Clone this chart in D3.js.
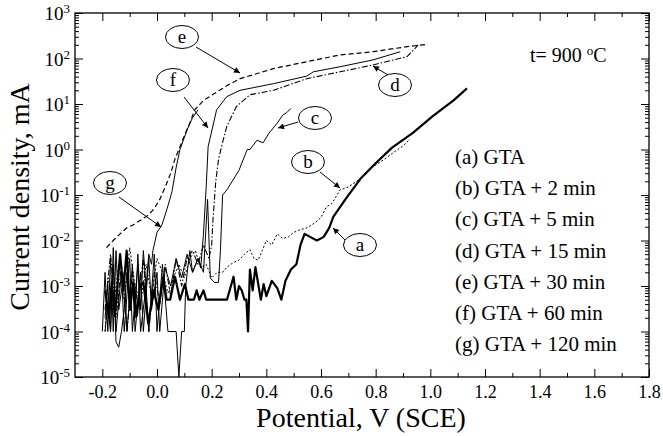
<!DOCTYPE html>
<html><head><meta charset="utf-8">
<script src="https://cdn.jsdelivr.net/npm/d3@7"></script>
<style>body{margin:0;background:#fff}</style>
</head><body><svg id="c" width="663" height="436"></svg>
<script>
// ---- data: [potential V (SCE), current density mA] ----
const seriesA = [[-0.19,8e-4],[-0.175,2e-4],[-0.166,1.2e-3],[-0.154,2.2e-4],[-0.135,5e-3],[-0.123,8e-4],[-0.111,6e-3],[-0.099,3e-4],[-0.087,1.2e-3],[-0.074,2.2e-4],[-0.062,1e-3],[-0.05,1.2e-3],[-0.032,1.5e-4],[-0.013,8e-4],[0.005,3e-4],[0.023,1.6e-3],[0.035,5e-4],[0.048,5e-4],[0.066,1.6e-3],[0.084,5e-4],[0.102,1.1e-3],[0.115,5e-4],[0.135,5e-4],[0.145,8e-4],[0.155,5e-4],[0.17,8e-4],[0.18,5e-4],[0.256,5e-4],[0.28,1.6e-3],[0.29,5e-4],[0.30,1e-3],[0.31,8e-4],[0.32,5e-4],[0.327,5e-4],[0.333,1e-4],[0.34,2.3e-3],[0.35,8e-4],[0.36,2.6e-3],[0.38,5e-4],[0.39,1.1e-3],[0.40,6e-4],[0.42,1.3e-3],[0.44,9e-4],[0.455,5e-4],[0.47,1.3e-3],[0.49,2.3e-3],[0.51,3e-3],[0.525,8e-3],[0.54,1.4e-2],[0.56,1.2e-2],[0.585,1e-2],[0.61,1.2e-2],[0.63,1.9e-2],[0.645,3.3e-2],[0.66,4.5e-2],[0.695,9e-2],[0.745,0.23],[0.80,0.5],[0.86,1.1],[0.935,2.3],[1.01,5.5],[1.085,12],[1.134,22]];
const seriesB = [[-0.19,1e-4],[-0.18,1.5e-3],[-0.16,3e-4],[-0.14,3e-3],[-0.12,5e-4],[-0.10,7e-3],[-0.08,1e-3],[-0.06,4e-4],[-0.04,3e-3],[-0.02,6e-4],[0.0,4e-3],[0.02,2e-3],[0.04,7e-4],[0.06,1.5e-3],[0.08,3e-3],[0.10,1.5e-3],[0.12,4e-3],[0.14,6e-3],[0.16,2.5e-3],[0.18,3e-3],[0.20,1.5e-3],[0.22,2e-3],[0.24,2e-3],[0.256,2.6e-3],[0.28,3.3e-3],[0.30,3.7e-3],[0.32,5e-3],[0.34,6.3e-3],[0.355,4e-3],[0.37,3.7e-3],[0.385,6e-3],[0.40,1e-2],[0.42,8e-3],[0.44,1.4e-2],[0.46,1.1e-2],[0.48,1.2e-2],[0.50,1.5e-2],[0.52,1.7e-2],[0.55,1.9e-2],[0.58,2.5e-2],[0.60,3.2e-2],[0.62,5.5e-2],[0.64,6.5e-2],[0.67,0.13],[0.70,0.15],[0.745,0.23],[0.78,0.38],[0.83,0.6],[0.87,0.9],[0.90,1.2],[0.926,1.7]];
const seriesC = [[-0.2,1e-4],[-0.19,2e-3],[-0.18,1e-4],[-0.17,4e-3],[-0.16,1e-4],[-0.15,6e-3],[-0.14,3e-4],[-0.12,2e-3],[-0.11,1e-4],[-0.09,3e-3],[-0.08,1e-4],[-0.06,2e-3],[-0.05,1e-4],[-0.03,4e-3],[-0.02,3e-4],[0.0,2e-3],[0.01,1e-4],[0.03,2.5e-3],[0.05,1e-3],[0.07,4e-3],[0.09,1.5e-3],[0.11,5e-3],[0.13,2e-3],[0.15,4e-3],[0.17,2e-3],[0.185,8e-2],[0.195,1.5e-3],[0.21,1.2e-3],[0.225,1.2e-3],[0.232,6e-3],[0.24,0.1],[0.256,0.13],[0.275,0.2],[0.30,0.35],[0.33,1.0],[0.34,1.0],[0.366,1.6],[0.388,1.4],[0.41,2.3],[0.44,3.8],[0.46,5.7],[0.475,6.5],[0.49,8]];
const seriesD = [[-0.19,3e-4],[-0.17,5e-3],[-0.15,2e-4],[-0.13,3e-3],[-0.11,1e-4],[-0.09,2e-3],[-0.07,4e-4],[-0.05,4e-3],[-0.03,1e-4],[-0.01,2e-3],[0.01,4e-4],[0.03,3e-3],[0.05,6e-4],[0.07,4e-3],[0.09,1e-3],[0.11,4e-3],[0.13,6e-3],[0.15,3e-3],[0.17,8e-3],[0.19,4e-3],[0.20,8e-3],[0.205,3e-2],[0.215,0.2],[0.225,0.6],[0.236,1.15],[0.255,3.2],[0.29,8.7],[0.34,16],[0.426,20],[0.548,36],[0.67,51],[0.79,72],[0.915,110],[0.95,182],[0.955,200]];
const seriesE = [[-0.185,7e-3],[-0.16,1e-2],[-0.135,1.4e-2],[-0.11,1.9e-2],[-0.088,2.2e-2],[-0.06,2.8e-2],[-0.035,3.5e-2],[-0.01,5e-2],[0.01,0.08],[0.03,0.15],[0.05,0.3],[0.065,0.6],[0.08,1.0],[0.10,2.0],[0.12,3.8],[0.138,7.4],[0.17,12],[0.21,17],[0.259,26],[0.304,36],[0.426,60],[0.548,85],[0.67,120],[0.79,141],[0.915,182],[0.988,205]];
const seriesF = [[-0.19,1e-4],[-0.18,4e-4],[-0.17,1e-4],[-0.16,7e-3],[-0.15,1e-4],[-0.13,2e-3],[-0.12,1e-4],[-0.10,4e-3],[-0.09,1e-4],[-0.07,3e-3],[-0.06,1e-4],[-0.04,1e-3],[-0.03,1e-4],[-0.01,5e-3],[0.0,1e-4],[0.02,3e-3],[0.04,1e-4],[0.07,1e-4],[0.08,1e-5],[0.09,1e-4],[0.10,1e-4],[0.105,1e-3],[0.12,6e-3],[0.13,2e-3],[0.15,4e-3],[0.16,2.5e-3],[0.17,1.4e-2],[0.18,0.15],[0.187,1.15],[0.218,7.4],[0.255,14.5],[0.304,20],[0.426,28],[0.548,41],[0.572,51],[0.67,66],[0.79,93],[0.89,141]];
const seriesG = [[-0.19,2e-4],[-0.18,1e-3],[-0.17,1e-4],[-0.16,3e-3],[-0.15,6e-5],[-0.14,4.5e-5],[-0.13,1e-4],[-0.12,3e-4],[-0.11,2e-3],[-0.10,3e-4],[-0.09,1e-3],[-0.08,2e-4],[-0.07,5e-3],[-0.06,3e-4],[-0.05,6e-3],[-0.04,1e-3],[-0.03,5e-3],[-0.02,3e-3],[-0.015,6e-3],[0.0,1.5e-2],[0.018,2.2e-2],[0.037,5e-2],[0.055,0.12],[0.07,0.4],[0.084,1.0],[0.11,2.7],[0.13,5],[0.15,7.4]];

const xMajorTicks = [-0.2,0,0.2,0.4,0.6,0.8,1.0,1.2,1.4,1.6,1.8];
const xMinorTicks = [-0.1,0.1,0.3,0.5,0.7,0.9,1.1,1.3,1.5,1.7];
const yExponents = [-5,-4,-3,-2,-1,0,1,2,3];
const legendLabels = ["(a) GTA","(b) GTA + 2 min","(c) GTA + 5 min","(d) GTA + 15 min","(e) GTA + 30 min","(f) GTA + 60 min","(g) GTA + 120 min"];

const serif = "'Liberation Serif','Times New Roman',serif";
const svg = d3.select("#c");
const L=75,R=649,T=13,B=377;
const x = d3.scaleLinear().domain([-0.3,1.8]).range([L,R]);
const y = d3.scaleLog().domain([1e-5,1e3]).range([B,T]);

const yMajor = yExponents.map(e=>Math.pow(10,e));
const yMinor = [];
yExponents.slice(0,-1).forEach(e=>{for(let k=2;k<=9;k++) yMinor.push(k*Math.pow(10,e));});

function axisG(axis){
  const g = svg.append("g").call(axis);
  g.select(".domain").remove();
  g.selectAll("line").attr("stroke","#000").attr("stroke-width",1);
  return g;
}
const gb = axisG(d3.axisBottom(x).tickValues(xMajorTicks).tickSize(-8).tickPadding(8).tickFormat(v=>v.toFixed(1)));
gb.attr("transform",`translate(0,${B})`);
gb.selectAll("text").attr("font-family",serif).attr("font-size",18).attr("fill","#000");
axisG(d3.axisBottom(x).tickValues(xMinorTicks).tickSize(-4).tickFormat("")).attr("transform",`translate(0,${B})`);
axisG(d3.axisTop(x).tickValues(xMajorTicks).tickSize(-8).tickFormat("")).attr("transform",`translate(0,${T})`);
axisG(d3.axisTop(x).tickValues(xMinorTicks).tickSize(-4).tickFormat("")).attr("transform",`translate(0,${T})`);
axisG(d3.axisLeft(y).tickValues(yMajor).tickSize(-8).tickFormat("")).attr("transform",`translate(${L},0)`);
axisG(d3.axisLeft(y).tickValues(yMinor).tickSize(-4).tickFormat("")).attr("transform",`translate(${L},0)`);
axisG(d3.axisRight(y).tickValues(yMajor).tickSize(-8).tickFormat("")).attr("transform",`translate(${R},0)`);
axisG(d3.axisRight(y).tickValues(yMinor).tickSize(-4).tickFormat("")).attr("transform",`translate(${R},0)`);

yExponents.forEach(e=>{
  const t = svg.append("text").attr("x",L-5).attr("y",y(Math.pow(10,e))+7)
    .attr("text-anchor","end").attr("font-family",serif).attr("font-size",19);
  t.append("tspan").text("10");
  t.append("tspan").attr("font-size",13).attr("dy",-7).text(e<0?"-"+(-e):String(e));
});
svg.append("rect").attr("x",L).attr("y",T).attr("width",R-L).attr("height",B-T)
  .attr("fill","none").attr("stroke","#000").attr("stroke-width",1.3);

svg.append("text").attr("x",361).attr("y",427).attr("text-anchor","middle")
  .attr("font-family",serif).attr("font-size",28).text("Potential, V (SCE)");
svg.append("text").attr("transform",`translate(29,197) rotate(-90)`).attr("text-anchor","middle")
  .attr("font-family",serif).attr("font-size",28).text("Current density, mA");

const line = d3.line().x(d=>x(d[0])).y(d=>y(d[1]));
const styles = [
  {data:seriesA,w:2.2,dash:null},
  {data:seriesB,w:1,dash:"2,2"},
  {data:seriesC,w:1,dash:null},
  {data:seriesD,w:1.1,dash:"6,2,1.5,2"},
  {data:seriesE,w:1.2,dash:"5,3"},
  {data:seriesF,w:1,dash:null},
  {data:seriesG,w:1,dash:null}
];
styles.forEach(s=>{
  svg.append("path").datum(s.data).attr("d",line).attr("fill","none")
    .attr("stroke","#000").attr("stroke-width",s.w).attr("stroke-linejoin","round")
    .attr("stroke-dasharray",s.dash);
});

const callouts = [
  {k:"a",cx:360,cy:245,tx:345,ty:240,hx:333,hy:228},
  {k:"b",cx:308,cy:162,tx:320,ty:172,hx:340,hy:188},
  {k:"c",cx:315,cy:118,tx:298,ty:122,hx:278,hy:128},
  {k:"d",cx:395,cy:85,tx:388,ty:75,hx:373,hy:66},
  {k:"e",cx:182,cy:37,tx:196,ty:47,hx:240,hy:73},
  {k:"f",cx:173,cy:80,tx:184,ty:97,hx:208,hy:128},
  {k:"g",cx:110,cy:183,tx:119,ty:197,hx:161,hy:227}
];
svg.append("defs").append("marker").attr("id","ah").attr("viewBox","0 0 10 10")
  .attr("refX",10).attr("refY",5).attr("markerWidth",8).attr("markerHeight",6)
  .attr("orient","auto").attr("markerUnits","userSpaceOnUse")
  .append("path").attr("d","M0,0L10,5L0,10z").attr("fill","#000");
callouts.forEach(c=>{
  svg.append("line").attr("x1",c.tx).attr("y1",c.ty).attr("x2",c.hx).attr("y2",c.hy)
    .attr("stroke","#000").attr("stroke-width",1).attr("marker-end","url(#ah)");
  svg.append("ellipse").attr("cx",c.cx).attr("cy",c.cy).attr("rx",16.5).attr("ry",11.5)
    .attr("fill","#fff").attr("stroke","#000").attr("stroke-width",1);
  svg.append("text").attr("x",c.cx).attr("y",c.cy+6).attr("text-anchor","middle")
    .attr("font-family",serif).attr("font-size",19).text(c.k);
});

legendLabels.forEach((lab,i)=>{
  svg.append("text").attr("x",455).attr("y",164+i*31.2).attr("font-family",serif)
    .attr("font-size",21).text(lab);
});
const tt = svg.append("text").attr("x",530).attr("y",62).attr("font-family",serif).attr("font-size",20);
tt.append("tspan").text("t= 900 ");
tt.append("tspan").attr("font-size",13).attr("dy",-7).text("o");
tt.append("tspan").attr("dy",7).text("C");
</script>
</body></html>
